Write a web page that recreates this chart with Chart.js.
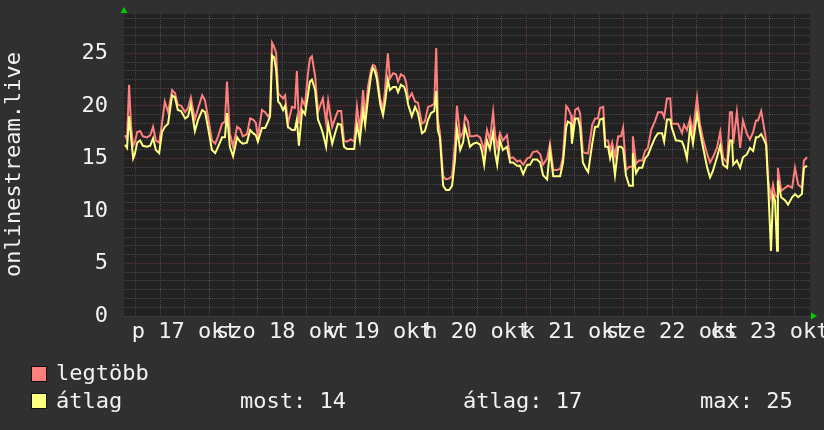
<!DOCTYPE html>
<html><head><meta charset="utf-8">
<script src="https://cdn.jsdelivr.net/npm/chart.js@4"></script>
<style>
html,body{margin:0;padding:0;background:#303030;}
#wrap{position:relative;width:824px;height:430px;overflow:hidden;background:#303030;}
canvas{position:absolute;left:0;top:0;}
.t{position:absolute;font:22px/22px "DejaVu Sans Mono",monospace;color:#f2f2f2;white-space:pre;}
.box{position:absolute;width:14px;height:14px;border:1px solid #111;}
#ytitle{position:absolute;left:0;top:0;width:300px;height:26px;font:22px/26px "DejaVu Sans Mono",monospace;color:#f2f2f2;text-align:center;white-space:pre;
  transform:translate(-136.6px,151.5px) rotate(-90deg);transform-origin:150px 13px;}
</style></head><body>
<div id="wrap"><canvas id="c" width="824" height="430"></canvas></div>
<script>
const yTitle = "onlinestream.live";
const dayLabels = ["p 17 okt","szo 18 okt","v 19 okt","h 20 okt","k 21 okt","sze 22 okt","cs 23 okt"];
const yTickLabels = [0,5,10,15,20,25];
const seriesNames = ["legtöbb","átlag"];
const seriesColors = ["#ff7f7f","#ffff80"];
const summaryLabels = ["most","átlag","max"];
const summaryValues = [14,17,25];

// hours since 17 okt 00:00
const hours = [-2.7,-2.2,-1.7,-1.2,-0.7,-0.3,0.3,1.0,1.7,2.7,3.5,4.2,4.9,5.7,6.4,7.1,7.9,8.9,9.6,10.3,11.1,12.1,12.8,13.5,14.5,15.3,16.3,17.0,17.7,18.7,19.5,20.2,21.2,21.9,22.4,23.1,23.9,
24.9,25.6,26.3,27.3,28.1,28.8,29.5,30.0,31.0,31.8,32.5,33.0,33.5,34.0,34.5,35.0,35.5,36.2,36.7,37.4,38.4,39.1,39.6,40.1,40.9,41.6,42.3,42.8,43.3,44.1,44.8,45.5,46.0,46.8,47.3,
48.3,49.0,49.7,50.5,51.2,51.9,52.9,53.7,54.4,55.1,55.9,56.4,57.1,57.9,58.3,58.8,59.3,60.1,60.8,61.3,62.0,62.5,63.3,64.0,64.5,65.2,66.0,66.5,67.0,67.9,68.7,69.4,70.4,71.1,71.9,
72.6,73.4,73.9,74.3,74.8,75.6,76.3,77.1,77.8,78.5,79.0,79.8,80.5,81.0,81.7,82.2,83.0,83.9,84.7,85.2,85.7,86.4,87.1,87.9,88.4,88.9,89.6,90.3,91.3,92.1,92.8,93.8,94.5,95.3,
96.3,97.0,97.7,98.7,99.5,100.2,101.2,101.9,102.7,103.6,104.4,105.1,105.9,106.3,107.1,107.3,108.1,108.8,109.3,110.0,110.8,111.3,112.3,113.0,113.7,114.2,115.0,115.5,116.2,116.7,117.2,117.9,118.7,119.4,119.9,
120.6,121.4,122.1,122.3,123.1,123.8,124.6,125.3,126.0,126.8,127.8,128.5,129.5,130.0,130.7,131.5,131.9,132.9,133.4,134.4,134.9,135.6,136.4,137.1,138.1,138.8,139.6,140.6,141.3,142.0,143.0,143.8,
144.5,145.5,146.2,146.7,147.0,147.9,148.7,149.4,150.4,151.1,151.9,152.6,153.1,153.9,154.3,155.1,155.6,156.3,156.8,157.3,157.8,158.0,158.8,159.8,160.5,161.5,162.2,163.0,163.9,164.4,165.2];

const legtobb = [17.2,16.8,22.0,18.0,16.2,16.5,17.5,17.6,17.1,17.0,17.2,18.0,16.7,16.5,18.3,20.4,19.4,21.5,21.2,20.1,20.0,19.4,19.8,20.8,18.7,19.8,21.0,20.5,19.0,16.7,16.4,17.1,18.3,18.5,22.3,17.4,16.1,
18.0,17.8,17.1,17.3,18.8,18.7,18.4,17.0,19.6,19.4,19.0,19.3,26.0,25.6,25.0,21.2,21.0,20.7,21.0,18.3,19.9,19.8,23.3,18.3,20.6,20.0,23.0,24.5,24.7,22.8,19.4,20.2,20.7,18.4,20.5,
18.0,18.8,19.5,19.5,16.7,16.6,16.8,16.6,19.9,17.7,21.5,19.0,21.8,23.5,23.9,23.8,23.1,20.7,19.7,21.5,25.0,22.6,23.1,23.0,22.3,23.0,22.8,22.2,20.6,21.2,20.4,20.3,18.3,18.5,19.9,
20.0,20.2,25.5,18.7,17.5,13.3,13.0,13.1,13.3,16.4,20.0,17.0,17.5,19.0,18.5,17.1,17.1,17.2,17.0,16.4,15.8,17.7,16.7,19.4,17.2,16.1,17.4,16.7,17.2,15.0,15.1,14.7,14.8,14.4,
15.0,15.1,15.6,15.7,15.4,14.4,15.0,16.4,13.9,13.9,14.0,15.1,20.0,19.8,19.1,17.1,19.6,19.8,19.3,15.6,15.5,15.5,18.2,18.8,18.8,19.8,19.9,16.7,16.7,15.7,16.5,15.2,17.1,17.1,17.9,
13.9,14.2,14.2,17.1,14.5,14.8,14.8,15.7,16.0,17.7,18.6,19.4,19.4,18.9,20.7,20.7,18.3,18.3,18.3,17.4,18.2,17.7,18.8,17.5,20.8,18.3,16.8,15.4,14.6,15.1,16.0,17.5,
15.1,14.6,19.4,19.4,16.4,19.4,16.0,18.6,17.3,16.8,17.5,18.6,18.6,19.5,18.6,16.7,12.9,11.3,12.5,11.5,11.3,14.1,11.9,12.2,12.4,12.2,14.1,12.5,12.2,14.8,15.1];

const atlag = [16.3,16.0,19.0,17.0,15.0,15.4,16.5,16.7,16.2,16.1,16.2,16.9,15.8,15.5,17.5,18.0,18.3,21.0,20.8,19.6,19.5,18.8,19.0,20.1,17.6,18.7,19.6,19.4,18.0,15.8,15.5,16.1,17.0,17.0,19.3,16.1,15.2,
17.0,16.6,16.4,16.5,17.7,17.4,17.2,16.6,17.9,17.9,18.5,19.0,24.8,24.6,23.4,20.4,20.2,19.6,20.0,18.0,17.7,17.7,18.7,16.2,19.6,19.2,21.0,22.3,22.5,21.5,18.7,18.0,17.4,16.1,18.3,
16.4,17.4,18.3,18.2,16.1,15.9,15.9,15.9,18.2,16.7,19.6,18.2,20.7,23.0,23.6,23.3,22.5,20.2,19.1,20.3,22.5,21.5,21.8,21.8,21.3,22.0,21.8,21.2,20.1,19.0,19.9,19.3,17.4,17.6,18.7,
19.3,19.5,21.4,17.7,17.0,12.4,12.0,12.0,12.4,14.8,17.8,15.8,16.5,18.0,17.0,16.1,16.4,16.5,16.3,15.6,14.4,16.7,15.9,17.5,15.5,14.4,16.7,15.8,16.1,14.6,14.6,14.3,14.3,13.5,
14.4,14.4,14.9,14.9,14.6,13.4,13.0,15.8,13.3,13.3,13.3,14.6,18.0,18.5,18.3,16.4,18.8,18.8,18.0,14.6,14.0,13.7,16.4,18.0,18.0,18.7,18.8,16.1,16.1,15.0,15.7,13.4,16.1,16.1,15.9,
13.4,12.4,12.4,15.5,13.6,14.1,14.1,15.0,15.3,16.1,17.0,17.4,17.4,16.6,18.7,18.7,17.9,16.7,16.7,16.6,16.1,15.0,18.0,16.4,19.3,17.6,16.0,14.1,13.2,13.8,15.1,16.2,
14.4,14.1,16.7,16.7,14.4,14.8,14.1,15.1,15.4,16.0,15.7,17.0,17.0,17.3,17.0,16.3,12.5,6.2,11.5,11.0,6.2,12.9,11.3,11.0,10.6,11.3,11.6,11.3,11.6,14.1,14.3];

const FONT = {family:"DejaVu Sans Mono", size:22};
const TXT = "#f2f2f2";
const RED_GRID = "#6a3232";
const GREY_GRID = "#4a4a4a";

// legend + axis title (HTML text)
const wrap = document.getElementById('wrap');
function addEl(cls, style, text, id){ const d=document.createElement('div'); if(cls) d.className=cls; if(id) d.id=id; Object.assign(d.style, style); if(text!==undefined) d.textContent=text; wrap.appendChild(d); }
addEl('', {}, yTitle, 'ytitle');
addEl('box',{left:'31px',top:'366px',background:seriesColors[0]});
addEl('t',{left:'56px',top:'362px'},seriesNames[0]);
addEl('box',{left:'31px',top:'393px',background:seriesColors[1]});
addEl('t',{left:'56px',top:'390px'},seriesNames[1]);
const sumX = [240,463,700];
summaryLabels.forEach((l,i)=>addEl('t',{left:sumX[i]+'px',top:'390px'},l+": "+summaryValues[i]));

const bgPlugin = {
  id:'plotbg',
  beforeDraw(chart){
    const {ctx, chartArea:a} = chart;
    ctx.save(); ctx.fillStyle='#222222'; ctx.fillRect(a.left,a.top,a.right-a.left,a.bottom-a.top); ctx.restore();
  }
};
const arrowPlugin = {
  id:'arrows',
  afterDraw(chart){
    const {ctx, chartArea:a} = chart;
    ctx.save(); ctx.fillStyle='#00cc00';
    ctx.beginPath(); ctx.moveTo(a.left-3.5,a.top-1); ctx.lineTo(a.left+3.5,a.top-1); ctx.lineTo(a.left,a.top-7); ctx.closePath(); ctx.fill();
    ctx.beginPath(); ctx.moveTo(a.right+1,a.bottom-3.5); ctx.lineTo(a.right+1,a.bottom+3.5); ctx.lineTo(a.right+7,a.bottom); ctx.closePath(); ctx.fill();
    ctx.restore();
  }
};

new Chart(document.getElementById('c'), {
  type:'line',
  data:{datasets:[
    {label:seriesNames[1], data:hours.map((h,i)=>({x:h,y:atlag[i]})), borderColor:seriesColors[1], borderWidth:2, pointRadius:0, tension:0, order:0},
    {label:seriesNames[0], data:hours.map((h,i)=>({x:h,y:legtobb[i]})), borderColor:seriesColors[0], borderWidth:2, pointRadius:0, tension:0, order:1}
  ]},
  options:{
    responsive:false, animation:false, devicePixelRatio:1,
    layout:{padding:{top:14,right:14,left:0,bottom:0}},
    plugins:{legend:{display:false}, tooltip:{enabled:false}},
    scales:{
      x:{
        type:'linear', min:-2.95, max:165.9,
        afterBuildTicks:s=>{ s.ticks=[]; for(let v=0; v<=162; v+=6) s.ticks.push({value:v}); },
        afterFit:s=>{ s.height=114; s.paddingLeft=0; s.paddingRight=0; },
        ticks:{autoSkip:false, maxRotation:0, minRotation:0, padding:3, color:TXT, font:FONT,
          callback:(v)=> (v%24===12) ? dayLabels[(v-12)/24] : ''},
        grid:{drawTicks:false, lineWidth:1, color:c=> (c.tick && c.tick.value%24===0) ? RED_GRID : GREY_GRID},
        border:{display:true, color:'#3a3a3a', dash:[1,1]}
      },
      y:{
        min:0, max:28.74,
        afterBuildTicks:s=>{ s.ticks=[]; for(let k=0;k<=34;k++) s.ticks.push({value:k*5/6}); },
        afterFit:s=>{ s.width=124; s.paddingTop=0; s.paddingBottom=0; },
        ticks:{autoSkip:false, padding:16, color:TXT, font:FONT,
          callback:(v,i)=> (i%6===0) ? String(yTickLabels[i/6]) : ''},
        grid:{drawTicks:false, lineWidth:1, color:c=> (c.index%6===0) ? RED_GRID : GREY_GRID},
        border:{display:false, dash:[1,1]}
      }
    }
  },
  plugins:[bgPlugin, arrowPlugin]
});
</script>
</body></html>
